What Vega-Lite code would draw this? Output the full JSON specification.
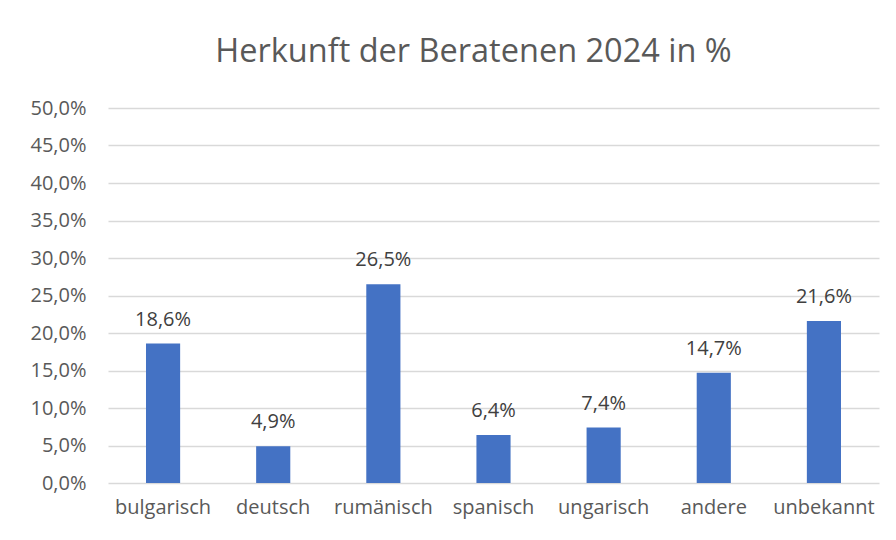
{
  "$schema": "https://vega.github.io/schema/vega-lite/v6.json",
  "width": 771,
  "height": 375,
  "autosize": {"type": "none"},
  "padding": {"left": 108, "top": 108, "right": 17, "bottom": 57},
  "background": "white",
  "title": {
    "text": "Herkunft der Beratenen 2024 in %",
    "font": "Open Sans",
    "fontSize": 32.5,
    "fontWeight": "normal",
    "color": "#595959",
    "anchor": "middle",
    "dx": -20,
    "offset": 30
  },
  "data": {
    "values": [
      {"Herkunft": "bulgarisch", "Anteil": 0.186},
      {"Herkunft": "deutsch", "Anteil": 0.049},
      {"Herkunft": "rumänisch", "Anteil": 0.265},
      {"Herkunft": "spanisch", "Anteil": 0.064},
      {"Herkunft": "ungarisch", "Anteil": 0.074},
      {"Herkunft": "andere", "Anteil": 0.147},
      {"Herkunft": "unbekannt", "Anteil": 0.216}
    ]
  },
  "encoding": {
    "x": {
      "field": "Herkunft",
      "type": "nominal",
      "sort": null,
      "scale": {"paddingInner": 0.69, "paddingOuter": 0.345},
      "axis": {
        "title": null,
        "labelAngle": 0,
        "labelFont": "Open Sans",
        "labelFontSize": 20,
        "labelColor": "#595959",
        "labelPadding": 14,
        "ticks": false,
        "domain": false,
        "grid": false
      }
    },
    "y": {
      "field": "Anteil",
      "type": "quantitative",
      "scale": {"domain": [0, 0.5], "nice": false},
      "axis": {
        "title": null,
        "format": ".1%",
        "values": [0, 0.05, 0.1, 0.15, 0.2, 0.25, 0.3, 0.35, 0.4, 0.45, 0.5],
        "labelFont": "Open Sans",
        "labelFontSize": 20,
        "labelColor": "#595959",
        "labelPadding": 22,
        "ticks": false,
        "domain": false,
        "gridColor": "#D9D9D9",
        "gridWidth": 1.5
      }
    }
  },
  "layer": [
    {"mark": {"type": "bar", "color": "#4472C4"}},
    {
      "mark": {
        "type": "text",
        "dy": -18,
        "baseline": "alphabetic",
        "font": "Open Sans",
        "fontSize": 20,
        "color": "#404040"
      },
      "encoding": {
        "text": {"field": "Anteil", "type": "quantitative", "format": ".1%"}
      }
    }
  ],
  "config": {
    "view": {"stroke": null},
    "locale": {
      "number": {
        "decimal": ",",
        "thousands": ".",
        "grouping": [3],
        "currency": ["", " €"]
      }
    }
  }
}
